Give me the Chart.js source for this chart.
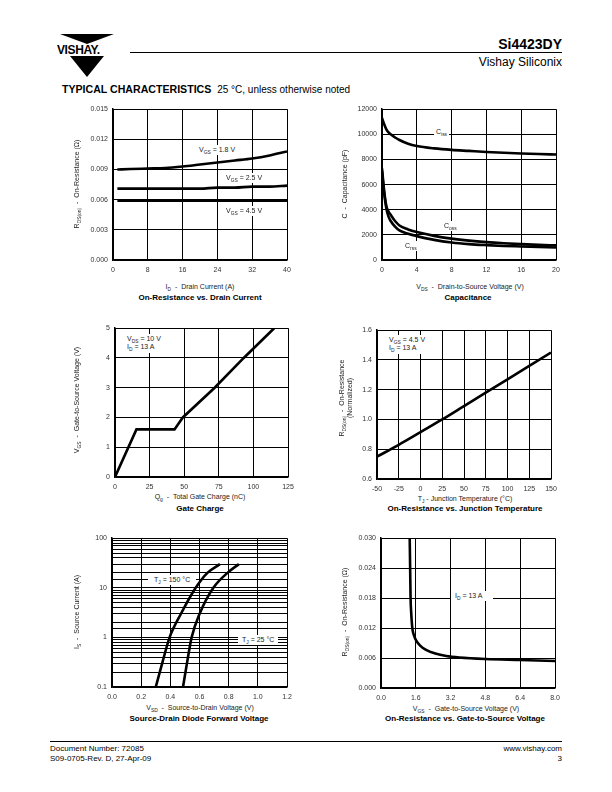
<!DOCTYPE html>
<html>
<head>
<meta charset="utf-8">
<script src="https://cdn.jsdelivr.net/npm/chart.js@4.4.0/dist/chart.umd.min.js"></script>
<style>
body{margin:0;width:612px;height:792px;position:relative;background:#fff;font-family:"Liberation Sans",Arial,sans-serif;color:#000;overflow:hidden}
.t{position:absolute;white-space:nowrap;line-height:1}
.c{transform:translateX(-50%)}
.r{transform:translate(-50%,-50%) rotate(-90deg);text-align:center;line-height:1.15}
.ax{font-size:7px;color:#222}
.ttl{font-size:8px;font-weight:bold}
.note{font-size:7px;color:#222;background:#fff;padding:1px 2px;line-height:1.2}
sub{font-size:70%;vertical-align:-2px;line-height:0}
canvas{position:absolute}
.hl{position:absolute;height:1px;background:#000}
</style>
</head>
<body>

<!-- logo -->
<div style="position:absolute;left:60px;top:34px;width:0;height:0;border-left:27px solid transparent;border-right:27px solid transparent;border-top:10px solid #000"></div>
<div class="t" style="left:57px;top:44px;font-size:12px;font-weight:bold;letter-spacing:-0.4px">VISHAY.</div>
<div style="position:absolute;left:70px;top:56px;width:0;height:0;border-left:17px solid transparent;border-right:17px solid transparent;border-top:21px solid #000"></div>

<div class="hl" style="left:130px;top:52px;width:432px"></div>
<div class="t" style="right:50px;top:37px;font-size:14px;font-weight:bold">Si4423DY</div>
<div class="t" style="right:50px;top:56px;font-size:12px">Vishay Siliconix</div>
<div class="t" style="left:62px;top:84px;font-size:10.6px;font-weight:bold">TYPICAL CHARACTERISTICS&nbsp; <span style="font-weight:normal;font-size:10px">25 °C, unless otherwise noted</span></div>

<!-- chart 1 texts -->
<div class="t ax r" style="left:77px;top:184px">R<sub>DS(on)</sub>&nbsp; - &nbsp;On-Resistance (Ω)</div>
<div class="t ax c" style="left:200px;top:283px">I<sub>D</sub>&nbsp; - &nbsp;Drain Current (A)</div>
<div class="t ttl c" style="left:200px;top:294px">On-Resistance vs. Drain Current</div>

<!-- chart 2 texts -->
<div class="t ax r" style="left:345px;top:184px">C&nbsp; - &nbsp;Capacitance (pF)</div>
<div class="t ax c" style="left:470px;top:283px">V<sub>DS</sub>&nbsp; - &nbsp;Drain-to-Source Voltage (V)</div>
<div class="t ttl c" style="left:468px;top:294px">Capacitance</div>

<!-- chart 3 texts -->
<div class="t ax r" style="left:77px;top:400px">V<sub>GS</sub>&nbsp; - &nbsp;Gate-to-Source Voltage (V)</div>
<div class="t ax c" style="left:200px;top:493px">Q<sub>g</sub>&nbsp; - &nbsp;Total Gate Charge (nC)</div>
<div class="t ttl c" style="left:200px;top:505px">Gate Charge</div>

<!-- chart 4 texts -->
<div class="t ax r" style="left:346px;top:398px">R<sub>DS(on)</sub>&nbsp; - &nbsp;On-Resistance<br>(Normalized)</div>
<div class="t ax c" style="left:465px;top:495px">T<sub>J</sub> - Junction Temperature (°C)</div>
<div class="t ttl c" style="left:465px;top:505px">On-Resistance vs. Junction Temperature</div>

<!-- chart 5 texts -->
<div class="t ax r" style="left:77px;top:612px">I<sub>S</sub>&nbsp; - &nbsp;Source Current (A)</div>
<div class="t ax c" style="left:200px;top:704px">V<sub>SD</sub>&nbsp; - &nbsp;Source-to-Drain Voltage (V)</div>
<div class="t ttl c" style="left:199px;top:715px">Source-Drain Diode Forward Voltage</div>

<!-- chart 6 texts -->
<div class="t ax r" style="left:345px;top:612px">R<sub>DS(on)</sub>&nbsp; - &nbsp;On-Resistance (Ω)</div>
<div class="t ax c" style="left:466px;top:705px">V<sub>GS</sub>&nbsp; - &nbsp;Gate-to-Source Voltage (V)</div>
<div class="t ttl c" style="left:465px;top:715px">On-Resistance vs. Gate-to-Source Voltage</div>

<!-- footer -->
<div class="hl" style="left:50px;top:741px;width:512px"></div>
<div class="t" style="left:50px;top:745px;font-size:8px">Document Number: 72085</div>
<div class="t" style="left:50px;top:755px;font-size:8px">S09-0705-Rev. D, 27-Apr-09</div>
<div class="t" style="right:50px;top:745px;font-size:8px">www.vishay.com</div>
<div class="t" style="right:50px;top:755px;font-size:8px">3</div>

<script>
// data
const idCurrent = [1, 4, 8, 12, 16, 20, 24, 28, 32, 36, 40]
const rdsVgs18 = [0.0090, 0.00905, 0.0091, 0.00915, 0.0093, 0.0095, 0.0097, 0.0099, 0.0101, 0.0104, 0.0108]
const rdsVgs25 = [0.0071, 0.0071, 0.0071, 0.0071, 0.0071, 0.0071, 0.0072, 0.0072, 0.0073, 0.0073, 0.0074]
const rdsVgs45 = [0.0059, 0.0059, 0.0059, 0.0059, 0.0059, 0.0059, 0.0059, 0.0059, 0.0059, 0.0059, 0.0059]

const vdsCap = [0, 0.25, 0.5, 0.75, 1, 1.5, 2, 3, 4, 6, 8, 10, 12, 14, 16, 18, 20]
const cIss = [11300, 10800, 10400, 10150, 10000, 9750, 9550, 9250, 9070, 8880, 8760, 8680, 8600, 8540, 8480, 8430, 8390]
const cOss = [7300, 5500, 4300, 3850, 3600, 3100, 2750, 2430, 2220, 1920, 1700, 1540, 1420, 1330, 1260, 1200, 1160]
const cRss = [7100, 5300, 4100, 3450, 3100, 2650, 2350, 2080, 1900, 1600, 1390, 1260, 1180, 1120, 1080, 1040, 1000]

const qGate = [0, 15.5, 43, 49, 72, 93, 115]
const vGate = [0, 1.6, 1.6, 2.0, 3.0, 4.0, 5.0]

const tJunction = [-50, -25, 0, 25, 50, 75, 100, 125, 150]
const rdsNorm = [0.75, 0.83, 0.915, 1.0, 1.09, 1.18, 1.27, 1.36, 1.45]

const isCurrent = [0.1, 0.3, 1, 3, 10, 20, 30]
const vsd150 = [0.30, 0.344, 0.395, 0.473, 0.574, 0.654, 0.74]
const vsd25 = [0.487, 0.514, 0.546, 0.601, 0.695, 0.792, 0.87]

const vgsSweep = [1.32, 1.34, 1.36, 1.39, 1.44, 1.52, 1.62, 1.8, 2.05, 2.5, 3.0, 3.6, 4.8, 6.4, 8.0]
const rdsSweep = [0.030, 0.024, 0.018, 0.015, 0.012, 0.0105, 0.0095, 0.0085, 0.0077, 0.0069, 0.0064, 0.0061, 0.0058, 0.0056, 0.0054]

const FONT = '"Liberation Sans", Arial, sans-serif'
const PADL = 45, PADT = 8, PADR = 16, PADB = 16

const pts = (xs, ys) => xs.map((x, i) => ({x: x, y: ys[i]}))

const line = (xs, ys, smooth) => ({
    data: pts(xs, ys),
    showLine: true,
    borderColor: '#000',
    borderWidth: 2.6,
    pointRadius: 0,
    fill: false,
    cubicInterpolationMode: smooth ? 'monotone' : 'default',
    tension: 0
})

const axis = (opts, ticks) => Object.assign({
    type: 'linear',
    grid: {color: '#000', lineWidth: 1, drawTicks: false},
    border: {color: '#000', width: 1.5},
    ticks: Object.assign({color: '#333', font: {family: FONT, size: 7}, padding: 5, autoSkip: false, maxRotation: 0}, ticks)
}, opts)

function plot(box, xAxis, yAxis, datasets){
    const cv = document.createElement('canvas')
    cv.width = box.w + PADL + PADR
    cv.height = box.h + PADT + PADB
    cv.style.left = (box.l - PADL) + 'px'
    cv.style.top = (box.t - PADT) + 'px'
    document.body.insertBefore(cv, document.body.firstChild)
    xAxis.afterFit = s => { s.height = PADB }
    yAxis.afterFit = s => { s.width = PADL }
    new Chart(cv, {
        type: 'scatter',
        data: {datasets: datasets},
        options: {
            responsive: false,
            animation: false,
            devicePixelRatio: 1,
            layout: {padding: {left: 0, top: PADT, right: PADR, bottom: 0}},
            plugins: {legend: {display: false}, tooltip: {enabled: false}},
            scales: {x: xAxis, y: yAxis}
        }
    })
}

// On-Resistance vs. Drain Current
plot({l: 113, t: 108, w: 174, h: 152},
    axis({min: 0, max: 40}, {stepSize: 8, padding: 6}),
    axis({min: 0, max: 0.015}, {stepSize: 0.003, callback: v => v.toFixed(3)}),
    [line(idCurrent, rdsVgs18, true), line(idCurrent, rdsVgs25, true), line(idCurrent, rdsVgs45, true)])

// Capacitance
plot({l: 382, t: 108, w: 174, h: 152},
    axis({min: 0, max: 20}, {stepSize: 4, padding: 6}),
    axis({min: 0, max: 12000}, {stepSize: 2000, callback: v => String(v)}),
    [line(vdsCap, cIss, true), line(vdsCap, cOss, true), line(vdsCap, cRss, true)])

// Gate Charge
plot({l: 115, t: 327, w: 173, h: 150},
    axis({min: 0, max: 125}, {stepSize: 25, padding: 6}),
    axis({min: 0, max: 5}, {stepSize: 1}),
    [line(qGate, vGate, false)])

// On-Resistance vs. Junction Temperature
plot({l: 377, t: 329, w: 174, h: 150},
    axis({min: -50, max: 150}, {stepSize: 25, padding: 6}),
    axis({min: 0.6, max: 1.6}, {stepSize: 0.2, callback: v => v.toFixed(1)}),
    [line(tJunction, rdsNorm, true)])

// Source-Drain Diode Forward Voltage
plot({l: 112, t: 537, w: 175, h: 150},
    axis({min: 0, max: 1.2}, {stepSize: 0.2, padding: 6, callback: v => v.toFixed(1)}),
    axis({type: 'logarithmic', min: 0.1, max: 100}, {callback: v => [0.1, 1, 10, 100].includes(v) ? String(v) : ''}),
    [line(vsd150, isCurrent, true), line(vsd25, isCurrent, true)])

// On-Resistance vs. Gate-to-Source Voltage
plot({l: 381, t: 537, w: 174, h: 151},
    axis({min: 0, max: 8}, {stepSize: 1.6, padding: 6, callback: v => v.toFixed(1)}),
    axis({min: 0, max: 0.03}, {stepSize: 0.006, callback: v => v.toFixed(3)}),
    [line(vgsSweep, rdsSweep, true)])
</script>

<!-- curve labels -->
<div class="t note" style="left:197px;top:145px">V<sub>GS</sub> = 1.8 V</div>
<div class="t note" style="left:224px;top:173px">V<sub>GS</sub> = 2.5 V</div>
<div class="t note" style="left:224px;top:206px">V<sub>GS</sub> = 4.5 V</div>
<div class="t note" style="left:434px;top:127px">C<sub>iss</sub></div>
<div class="t note" style="left:442px;top:221px">C<sub>oss</sub></div>
<div class="t note" style="left:403px;top:241px">C<sub>rss</sub></div>
<div class="t note" style="left:125px;top:334px">V<sub>DS</sub> = 10 V<br>I<sub>D</sub> = 13 A</div>
<div class="t note" style="left:387px;top:335px">V<sub>GS</sub> = 4.5 V<br>I<sub>D</sub> = 13 A</div>
<div class="t note" style="left:148px;top:575px;padding:1px 6px">T<sub>J</sub> = 150 °C</div>
<div class="t note" style="left:238px;top:635px;padding:1px 4px">T<sub>J</sub> = 25 °C</div>
<div class="t note" style="left:451px;top:591px;padding:1px 10px 1px 4px">I<sub>D</sub> = 13 A</div>
</body>
</html>
